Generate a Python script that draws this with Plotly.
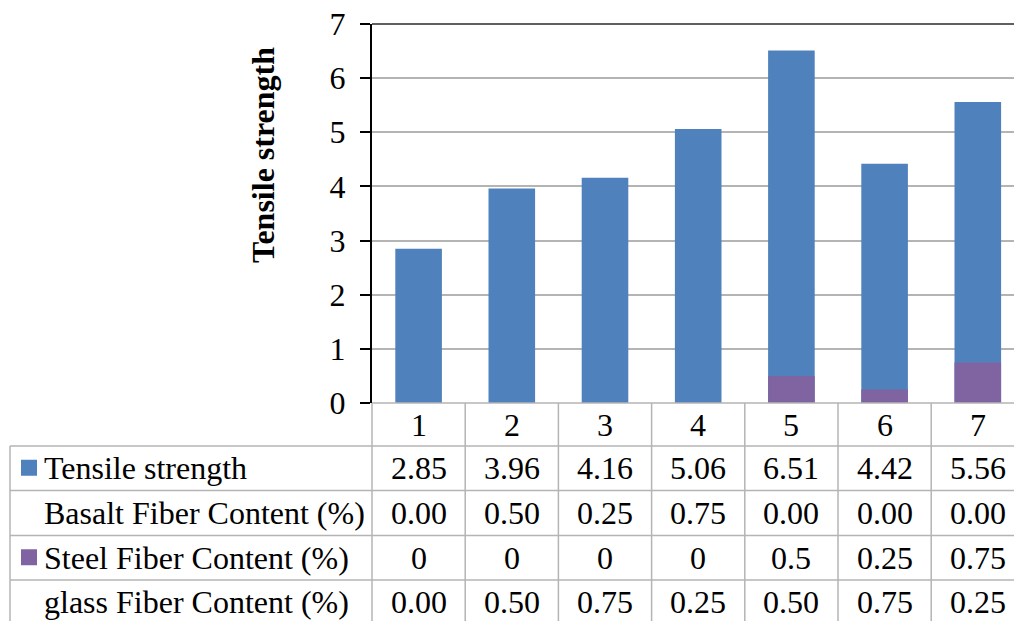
import plotly.graph_objects as go

categories = ["1", "2", "3", "4", "5", "6", "7"]
tensile_strength = [2.85, 3.96, 4.16, 5.06, 6.51, 4.42, 5.56]
basalt_content = [0.00, 0.50, 0.25, 0.75, 0.00, 0.00, 0.00]
steel_content = [0, 0, 0, 0, 0.5, 0.25, 0.75]
glass_content = [0.00, 0.50, 0.75, 0.25, 0.50, 0.75, 0.25]

row_labels = ["Tensile strength", "Basalt Fiber Content (%)",
              "Steel Fiber Content (%)", "glass Fiber Content (%)"]
row_values = [
    ["{:.2f}".format(v) for v in tensile_strength],
    ["{:.2f}".format(v) for v in basalt_content],
    ["{:g}".format(v) for v in steel_content],
    ["{:.2f}".format(v) for v in glass_content],
]
row_keys = ["#4F81BD", None, "#8064A2", None]

BLUE = "#4F81BD"
PURPLE = "#8064A2"
FONT = "Liberation Serif, Times New Roman, serif"
FS = 32
GRID = "#B4B4B4"

OFF = 0  # body margin removed via post_script
W, H = 1014, 621
L, T, BOT = 372, 24, 403
col_w = 93.2
x0 = -0.5
x1 = x0 + (W - L) / col_w
xs = list(range(len(categories)))


def px_x(p):
    return (p - OFF - L) / (W - L)


def px_y(p):
    return (BOT - (p - OFF)) / (BOT - T)


def dx_to_paper(x):
    return (x - x0) / (x1 - x0)


fig = go.Figure()
fig.add_trace(go.Bar(x=xs, y=tensile_strength, width=0.5, marker=dict(color=BLUE, line=dict(width=0)),
                     name="Tensile strength"))
fig.add_trace(go.Bar(x=xs, y=steel_content, width=0.5, marker=dict(color=PURPLE, line=dict(width=0)),
                     name="Steel Fiber Content (%)"))

shapes = []
annotations = []

shapes.append(dict(type="line", xref="paper", yref="paper", x0=0, x1=1, y0=1, y1=1,
                   line=dict(color="#606060", width=2)))

row_edges = [403, 446, 490.5, 535.5, 580, 624.5]
shapes.append(dict(type="line", xref="paper", yref="paper", x0=0, x1=1.02,
                   y0=px_y(row_edges[0]), y1=px_y(row_edges[0]), line=dict(color=GRID, width=1.5)))
for e in row_edges[1:]:
    shapes.append(dict(type="line", xref="paper", yref="paper", x0=px_x(10), x1=1.02,
                       y0=px_y(e), y1=px_y(e), line=dict(color=GRID, width=1.5)))
shapes.append(dict(type="line", xref="paper", yref="paper", x0=px_x(10), x1=px_x(10),
                   y0=px_y(row_edges[1]), y1=px_y(row_edges[-1]), line=dict(color=GRID, width=1.5)))
for k in range(len(categories) + 1):
    xp = dx_to_paper(k - 0.5)
    shapes.append(dict(type="line", xref="paper", yref="paper", x0=xp, x1=xp,
                       y0=px_y(row_edges[0]), y1=px_y(row_edges[-1]), line=dict(color=GRID, width=1.5)))

for i, c in enumerate(categories):
    annotations.append(dict(x=dx_to_paper(xs[i]), y=px_y((row_edges[0] + row_edges[1]) / 2),
                            xref="paper", yref="paper", text=c, showarrow=False,
                            xanchor="center", yanchor="middle",
                            font=dict(family=FONT, size=FS, color="black")))

for r, (lab, vals, key) in enumerate(zip(row_labels, row_values, row_keys)):
    yc = (row_edges[r + 1] + row_edges[r + 2]) / 2
    annotations.append(dict(x=px_x(42), y=px_y(yc), xref="paper", yref="paper", text=lab,
                            showarrow=False, xanchor="left", yanchor="middle",
                            font=dict(family=FONT, size=FS, color="black")))
    if key:
        shapes.append(dict(type="rect", xref="paper", yref="paper", x0=px_x(21), x1=px_x(37),
                           y0=px_y(yc - 8.5), y1=px_y(yc + 7.5), fillcolor=key, line=dict(width=0)))
    for i, v in enumerate(vals):
        annotations.append(dict(x=dx_to_paper(xs[i]), y=px_y(yc), xref="paper", yref="paper",
                                text=v, showarrow=False, xanchor="center", yanchor="middle",
                                font=dict(family=FONT, size=FS, color="black")))

annotations.append(dict(x=px_x(263), y=px_y(155), xref="paper", yref="paper",
                        text="<b>Tensile strength</b>", textangle=-90, showarrow=False,
                        xanchor="center", yanchor="middle",
                        font=dict(family=FONT, size=32, color="black")))

fig.update_layout(
    width=W, height=H,
    margin=dict(l=L, r=0, t=T, b=H - BOT, pad=0),
    paper_bgcolor="white", plot_bgcolor="white",
    barmode="overlay", showlegend=False,
    shapes=shapes, annotations=annotations,
    xaxis=dict(range=[x0, x1], showticklabels=False, showgrid=False, zeroline=False,
               showline=False, ticks=""),
    yaxis=dict(range=[0, 7], dtick=1, tick0=0, showgrid=True, gridcolor=GRID, gridwidth=1.5,
               zeroline=False, showline=True, linecolor="black", linewidth=2,
               ticks="outside", ticklen=10, tickwidth=2, tickcolor="black",
               ticklabelstandoff=8, ticklabeloverflow="allow",
               tickfont=dict(family=FONT, size=FS, color="black")),
)

fig.write_html("out.html", config={"displayModeBar": False},
               post_script="document.body.style.margin='0';document.body.style.overflow='hidden';")
